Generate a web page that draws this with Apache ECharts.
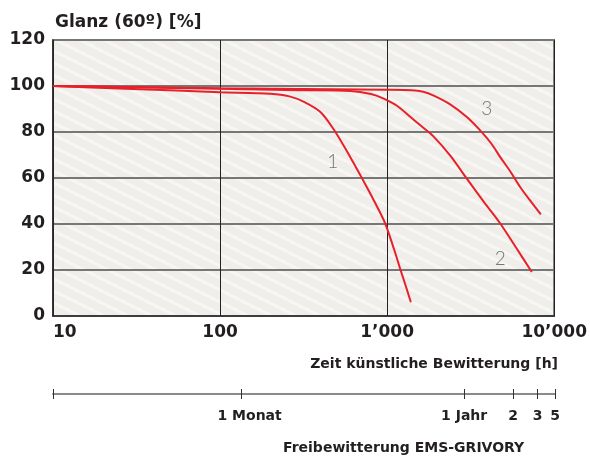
<!DOCTYPE html>
<html>
<head>
<meta charset="utf-8">
<script src="https://cdn.jsdelivr.net/npm/echarts@6/dist/echarts.min.js"></script>
<style>
  html, body { margin: 0; padding: 0; background: #fff; }
  #main { width: 590px; height: 456px; }
</style>
</head>
<body>
<div id="main"></div>
<script>
// Glanz (60°) vs. Zeit kuenstliche Bewitterung [h]
var curve1 = [[10, 100], [30, 98.7], [100, 97.3], [200, 96.6], [260, 95.5], [320, 93], [400, 88.6], [475, 81.5], [560, 73], [718, 59], [850, 49], [973, 40.3], [1100, 29], [1197, 20.5], [1300, 12.5], [1387, 6]];
var curve2 = [[10, 100], [100, 98.8], [300, 98.2], [600, 97.8], [800, 96.5], [946, 94.6], [1150, 91.3], [1374, 86.6], [1600, 82.6], [1893, 78.1], [2400, 69.5], [3000, 59.7], [3800, 49.5], [4753, 40.2], [6000, 29], [7345, 19.1]];
var curve3 = [[10, 100], [100, 99], [1000, 98.4], [1400, 98.2], [1644, 97.5], [1900, 95.8], [2384, 92], [3000, 86.5], [3604, 80.7], [4200, 75], [4753, 69.1], [5500, 62.5], [6252, 56.1], [7300, 49.5], [8318, 44.2]];
var curveNames = ['1', '2', '3'];
var curveLabelPos = [[473, 67], [4753, 24.7], [3954, 90.2]];

var xTickValues = [10, 100, 1000, 10000];
var xTickLabels = ['10', '100', '1’000', '10’000'];

// Freibewitterung scale, expressed on the same hour axis
var outdoorTickHours = [10, 134, 2864, 5623, 7870, 10000];
var outdoorTickLabels = ['', '1 Monat', '1 Jahr', '2', '3', '5'];

var textColor = '#231f20';
var lineColor = '#e8202a';
var fontFam = '"DejaVu Sans", sans-serif';

function makePattern() {
    var c = document.createElement('canvas');
    c.width = 48; c.height = 24;
    var g = c.getContext('2d');
    g.fillStyle = '#efeeea';
    g.fillRect(0, 0, 48, 24);
    g.strokeStyle = '#f7f6f3';
    g.lineWidth = 3;
    for (var k = -48; k <= 48; k += 12) {
        g.beginPath();
        g.moveTo(0, k);
        g.lineTo(48, k + 24);
        g.stroke();
    }
    return c;
}

function nearestLabel(values, labels, v) {
    var best = 0, bd = Infinity;
    for (var i = 0; i < values.length; i++) {
        var d = Math.abs(Math.log(values[i]) - Math.log(v));
        if (d < bd) { bd = d; best = i; }
    }
    return labels[best];
}

var dom = document.getElementById('main');
var myChart = echarts.init(dom, null, { renderer: 'canvas' });

var series = [curve1, curve2, curve3].map(function (d, i) {
    return {
        name: curveNames[i],
        type: 'line',
        data: d,
        smooth: 0.3,
        showSymbol: false,
        lineStyle: { color: lineColor, width: 2 },
        z: 5
    };
});
series.push({
    type: 'scatter',
    data: curveLabelPos.map(function (p, i) { return { value: p, name: curveNames[i] }; }),
    symbolSize: 0,
    label: {
        show: true,
        position: 'inside',
        formatter: '{b}',
        fontFamily: 'Lato, sans-serif',
        fontWeight: 300,
        fontSize: 19,
        color: '#555'
    },
    z: 6
});

var option = {
    backgroundColor: '#ffffff',
    animation: false,
    title: [
        { text: 'Glanz (60º) [%]', left: 55, top: 14, padding: 0,
          textStyle: { fontFamily: fontFam, fontWeight: 'bold', fontSize: 17, color: textColor } },
        { text: 'Zeit künstliche Bewitterung [h]', right: 32, top: 357, padding: 0,
          textStyle: { fontFamily: fontFam, fontWeight: 'bold', fontSize: 14, color: textColor } },
        { text: 'Freibewitterung EMS-GRIVORY', left: 283, top: 441, padding: 0,
          textStyle: { fontFamily: fontFam, fontWeight: 'bold', fontSize: 14, color: textColor } }
    ],
    grid: [
        { left: 53, right: 35, top: 40, bottom: 140, show: true,
          backgroundColor: { image: makePattern(), repeat: 'repeat' },
          borderColor: '#2a2a2a', borderWidth: 1.5 },
        { left: 53, right: 35, top: 394, height: 0 }
    ],
    xAxis: [
        {
            type: 'log', logBase: 10, min: 10, max: 10000, gridIndex: 0,
            axisLine: { show: true, lineStyle: { color: '#2a2a2a', width: 1.5 } },
            axisTick: { show: false },
            splitLine: { show: true, lineStyle: { color: '#222', width: 1 } },
            axisLabel: {
                margin: 8, fontFamily: fontFam, fontWeight: 'bold', fontSize: 17, color: textColor,
                alignMinLabel: 'left',
                formatter: function (v) { return nearestLabel(xTickValues, xTickLabels, v); }
            }
        },
        {
            type: 'log', logBase: 10, min: 10, max: 10000, gridIndex: 1, position: 'top',
            axisLine: { show: true, lineStyle: { color: '#8a8a8a', width: 2 } },
            axisTick: { show: true, length: 5, customValues: outdoorTickHours, lineStyle: { color: '#333', width: 1 } },
            splitLine: { show: false },
            axisLabel: { show: false }
        },
        {
            type: 'log', logBase: 10, min: 10, max: 10000, gridIndex: 1, position: 'bottom',
            axisLine: { show: false },
            axisTick: { show: true, length: 5, customValues: outdoorTickHours, lineStyle: { color: '#333', width: 1 } },
            splitLine: { show: false },
            axisLabel: {
                show: true, margin: 15, customValues: outdoorTickHours.slice(1),
                fontFamily: fontFam, fontWeight: 'bold', fontSize: 14, color: textColor,
                formatter: function (v) {
                    var s = nearestLabel(outdoorTickHours, outdoorTickLabels, v);
                    return s === '1 Monat' ? '{m|' + s + '}' : s;
                },
                rich: { m: { padding: [0, 0, 0, 16], fontFamily: fontFam, fontWeight: 'bold', fontSize: 14, color: textColor } }
            }
        }
    ],
    yAxis: [
        {
            type: 'value', min: 0, max: 120, interval: 20, gridIndex: 0,
            axisLine: { show: true, lineStyle: { color: '#2a2a2a', width: 1.5 } },
            axisTick: { show: false },
            splitLine: { show: true, lineStyle: { color: '#777', width: 2 } },
            axisLabel: { margin: 8, fontFamily: fontFam, fontWeight: 'bold', fontSize: 17, color: textColor }
        },
        { type: 'value', min: 0, max: 1, gridIndex: 1, show: false }
    ],
    series: series
};

myChart.setOption(option);
</script>
</body>
</html>
